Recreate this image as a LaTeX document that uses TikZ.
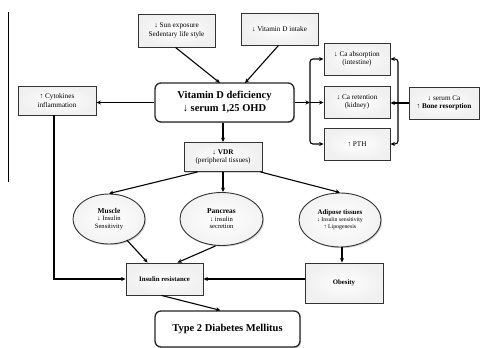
\documentclass[tikz,border=0pt]{standalone}
\usepackage{fontspec}
\setmainfont{Liberation Serif}
\usetikzlibrary{arrows.meta,shapes.geometric,shadows,calc}
\begin{document}
\begin{tikzpicture}[x=1pt,y=-1pt,
  every node/.style={align=center,inner sep=1pt},
  box/.style={draw=black!80,line width=0.9pt,inner color=white,outer color=gray!12,
     drop shadow={shadow xshift=1.2pt,shadow yshift=-1.2pt,opacity=0.35}},
  rbox/.style={draw=black!85,rounded corners=6pt,line width=1.3pt,fill=white,
     drop shadow={shadow xshift=1.2pt,shadow yshift=-1.2pt,opacity=0.35}},
  oval/.style={ellipse,draw=black!80,line width=0.9pt,inner color=white,outer color=gray!10,inner sep=0pt,
     drop shadow={shadow xshift=1.2pt,shadow yshift=-1.2pt,opacity=0.35}},
  arr/.style={line width=1.1pt,-{Stealth[length=4.5pt,width=4pt]}},
  ln/.style={line width=1.1pt}]
\useasboundingbox (0,0) rectangle (480,348);
\draw[line width=0.8pt] (8,12) -- (8,182);
% nodes
\node[box,minimum width=77pt,minimum height=33pt,font=\fontsize{7.2}{8.5}\selectfont] (sun) at (176.5,30.5) {↓ Sun exposure\\Sedentary life style};
\node[box,minimum width=77pt,minimum height=32pt,font=\fontsize{7.2}{8.5}\selectfont] (intake) at (279.5,29) {↓ Vitamin D intake};
\node[rbox,minimum width=139pt,minimum height=39pt,font=\bfseries\fontsize{10.5}{13}\selectfont] (vitd) at (224.5,102.5) {Vitamin D deficiency\\↓ serum 1,25 OHD};
\node[box,minimum width=78pt,minimum height=29pt,font=\fontsize{7.2}{8.5}\selectfont] (cyto) at (57,100.5) {↑ Cytokines\\inflammation};
\node[box,minimum width=66pt,minimum height=32pt,font=\fontsize{7.2}{8.5}\selectfont] (caabs) at (357,59) {↓ Ca absorption\\(intestine)};
\node[box,minimum width=66pt,minimum height=32pt,font=\fontsize{7.2}{8.5}\selectfont] (caret) at (357,102) {↓ Ca retention\\(kidney)};
\node[box,minimum width=66pt,minimum height=32pt,font=\fontsize{7.2}{8.5}\selectfont] (pth) at (357,144) {↑ PTH};
\node[box,minimum width=70pt,minimum height=32pt,font=\fontsize{7.2}{8.5}\selectfont] (serum) at (444,103) {↓ serum Ca\\↑ \textbf{Bone resorption}};
\node[box,minimum width=78pt,minimum height=29pt,font=\fontsize{7.2}{8.5}\selectfont] (vdr) at (223,157) {↓ \textbf{VDR}\\(peripheral tissues)};
\node[oval,minimum width=72pt,minimum height=50pt,font=\fontsize{6.6}{7.6}\selectfont] (muscle) at (109,219) {{\bfseries\fontsize{7.4}{8.4}\selectfont Muscle}\\↓ Insulin\\Sensitivity};
\node[oval,minimum width=83pt,minimum height=53pt,font=\fontsize{6.6}{7.6}\selectfont] (panc) at (221.5,219) {{\bfseries\fontsize{7.4}{8.4}\selectfont Pancreas}\\↓ insulin\\secretion};
\node[oval,minimum width=82pt,minimum height=54pt,font=\fontsize{5.8}{6.8}\selectfont] (adip) at (340,220) {{\bfseries\fontsize{6.9}{7.9}\selectfont Adipose tissues}\\↓ Insulin sensitivity\\↑ Lipogenesis};
\node[box,minimum width=77pt,minimum height=32pt,font=\bfseries\fontsize{6.8}{8}\selectfont] (insres) at (164.5,279) {Insulin resistance};
\node[box,minimum width=78pt,minimum height=40pt,font=\bfseries\fontsize{6.8}{8}\selectfont] (obes) at (344,283) {Obesity};
\node[rbox,minimum width=145pt,minimum height=36pt,font=\bfseries\fontsize{10.5}{13}\selectfont] (t2dm) at (227.5,329) {Type 2 Diabetes Mellitus};
% connectors
\coordinate (vt1) at (220,83);
\coordinate (vt2) at (245,83);
\draw[arr] ($(sun.south)+(-1,0)$) -- (vt1);
\draw[arr] ($(intake.south)+(-1,0)$) -- (vt2);
\draw[arr] (vitd.west) -- (vitd.west -| cyto.east);
\coordinate (bl) at (310,102.5);
\coordinate (br) at (398,103);
\draw[arr] (vitd.east) -- (bl);
\draw[arr] (bl) -- (bl -| caret.west);
\draw[arr,rounded corners=3pt] (bl) |- (caabs.west);
\draw[arr,rounded corners=3pt] (bl) |- (pth.west);
\draw[ln] (serum.west) -- (br);
\draw[arr] (br) -- (br -| caret.east);
\draw[arr,rounded corners=3pt] (br) |- (caabs.east);
\draw[arr,rounded corners=3pt] (br) |- (pth.east);
\draw[arr] (vitd.south -| vdr.north) -- (vdr.north);
\draw[arr] (vdr.south) -- (panc.north -| vdr.south);
\draw[arr] ($(vdr.south west)+(14,0)$) -- (muscle.north);
\draw[arr] ($(vdr.south east)+(-2,0)$) -- (adip.north);
\coordinate (cs) at ($(cyto.south)+(-3,0)$);
\coordinate (cy) at (cs |- insres.west);
\draw[arr] (cs) -- (cy) -- (insres.west);
\draw[arr] (obes.west |- insres.east) -- (insres.east);
\coordinate (ax) at (342,0);
\draw[arr] (adip.south -| ax) -- (obes.north -| ax);
\draw[arr] ($(muscle.south east)+(-8,3)$) -- ($(insres.north west)+(22,0)$);
\draw[arr] ($(panc.south)+(-6,0)$) -- ($(insres.north east)+(-26,0)$);
\draw[arr] ($(insres.south)+(-3,0)$) -- ($(t2dm.north)+(-7,0)$);
\end{tikzpicture}
\end{document}
